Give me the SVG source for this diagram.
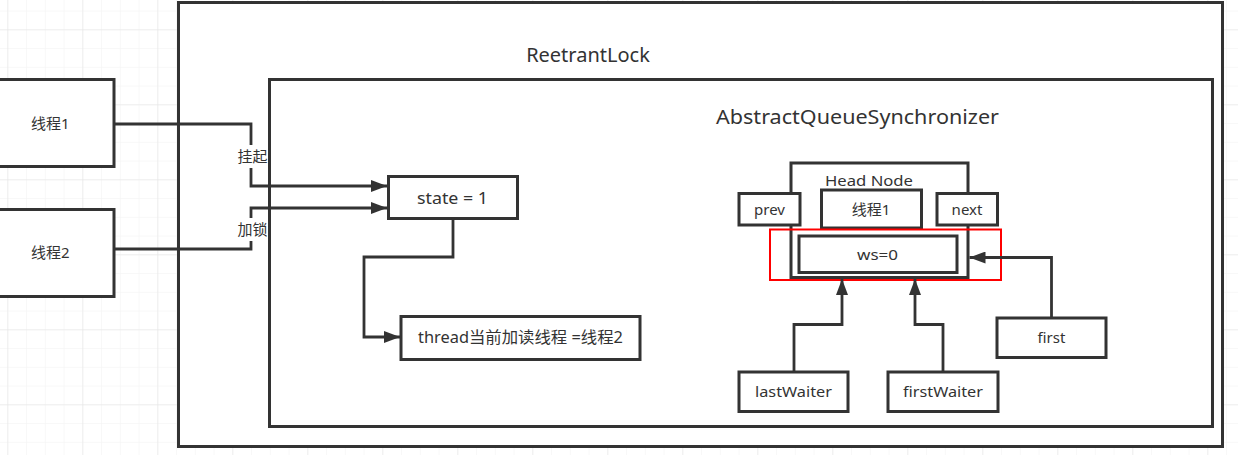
<svg xmlns="http://www.w3.org/2000/svg" width="1238" height="455" viewBox="0 0 1238 455">
<defs>
<pattern id="minor" x="7.3" y="29.3" width="18.75" height="18.75" patternUnits="userSpaceOnUse">
<path d="M0 0V18.75M0 0H18.75" fill="none" stroke="#f2f2f2" stroke-width="1"/>
</pattern>
<pattern id="major" x="7.3" y="29.3" width="75" height="75" patternUnits="userSpaceOnUse">
<path d="M0 0V75M0 0H75" fill="none" stroke="#e4e4e4" stroke-width="1"/>
</pattern>
<marker id="arr" viewBox="0 0 16 12" refX="16" refY="6" markerWidth="16" markerHeight="12" markerUnits="userSpaceOnUse" orient="auto">
<path d="M0 0L16 6L0 12Z" fill="#333"/>
</marker>
</defs>
<style>
.box{fill:#fff;stroke:#333;stroke-width:3}
.t{font-family:"Noto Sans","Noto Sans CJK SC",sans-serif;fill:#333;text-anchor:middle}
.s15{font-size:15px}
.s16{font-size:16px}
.s20{font-size:20px}
.edge{fill:none;stroke:#333;stroke-width:2.8}
</style>
<rect width="1238" height="455" fill="#fff"/>
<rect width="1238" height="455" fill="url(#minor)"/>
<rect width="1238" height="455" fill="url(#major)"/>

<g id="reetrantlock">
<rect class="box" x="178.5" y="2.5" width="1044" height="444"/>
<text class="t s20" x="588" y="62">ReetrantLock</text>
</g>
<g id="aqs">
<rect class="box" x="269.5" y="79.5" width="943" height="347"/>
<text class="t s20" x="857.5" y="124" textLength="283" lengthAdjust="spacingAndGlyphs">AbstractQueueSynchronizer</text>
</g>

<g id="thread1">
<rect class="box" x="-10" y="79.5" width="124" height="87"/>
<text class="t s15" x="50.3" y="129">线程1</text>
</g>
<g id="thread2">
<rect class="box" x="-10" y="209.5" width="124" height="87"/>
<text class="t s15" x="50.3" y="258">线程2</text>
</g>

<g id="state">
<rect class="box" x="388.5" y="176.5" width="129" height="42"/>
<text class="t s16" x="452.5" y="204" textLength="71" lengthAdjust="spacingAndGlyphs">state = 1</text>
</g>
<g id="threadinfo">
<rect class="box" x="401" y="316.5" width="239" height="43"/>
<text class="t s16" x="520.5" y="343" textLength="205" lengthAdjust="spacingAndGlyphs">thread当前加读线程 =线程2</text>
</g>

<g id="headnode">
<rect class="box" x="791" y="163" width="177" height="114.5"/>
<text class="t s15" x="869" y="186" textLength="88" lengthAdjust="spacingAndGlyphs">Head Node</text>
</g>
<g id="prev">
<rect class="box" x="739" y="193.5" width="61" height="31.5"/>
<text class="t s15" x="769.5" y="215">prev</text>
</g>
<g id="thread1node">
<rect class="box" x="821.5" y="190" width="100" height="38"/>
<text class="t s15" x="871" y="215">线程1</text>
</g>
<g id="next">
<rect class="box" x="937" y="193.5" width="60.5" height="31.5"/>
<text class="t s15" x="967" y="215">next</text>
</g>
<g id="ws">
<rect class="box" x="799" y="236" width="158" height="36.5"/>
<text class="t s15" x="877.5" y="260" textLength="41" lengthAdjust="spacingAndGlyphs">ws=0</text>
</g>
<g id="highlight">
<rect x="770" y="229.5" width="231" height="50.5" fill="none" stroke="#ff0000" stroke-width="2"/>
</g>
<g id="first">
<rect class="box" x="997" y="318" width="109" height="39.5"/>
<text class="t s15" x="1051.5" y="343">first</text>
</g>
<g id="lastwaiter">
<rect class="box" x="739" y="372" width="109" height="39.5"/>
<text class="t s15" x="793.5" y="397" textLength="77" lengthAdjust="spacingAndGlyphs">lastWaiter</text>
</g>
<g id="firstwaiter">
<rect class="box" x="888" y="372" width="110" height="39.5"/>
<text class="t s15" x="943" y="397" textLength="80" lengthAdjust="spacingAndGlyphs">firstWaiter</text>
</g>

<g id="connectors">
<path class="edge" d="M114 124H251V186H387" marker-end="url(#arr)"/>
<path class="edge" d="M114 249H251V208H387" marker-end="url(#arr)"/>
<path class="edge" d="M453 218V257H364V337H400" marker-end="url(#arr)"/>
<path class="edge" d="M1051.5 318V257.5H969.5" marker-end="url(#arr)"/>
<path class="edge" d="M794 372V324.5H842V279" marker-end="url(#arr)"/>
<path class="edge" d="M943 372V324.5H915V279" marker-end="url(#arr)"/>
<rect x="236" y="145" width="32" height="23" fill="#fff"/>
<text class="t s15" x="252.5" y="162">挂起</text>
<rect x="236" y="218" width="32" height="23" fill="#fff"/>
<text class="t s15" x="252.5" y="235">加锁</text>
</g>
</svg>
